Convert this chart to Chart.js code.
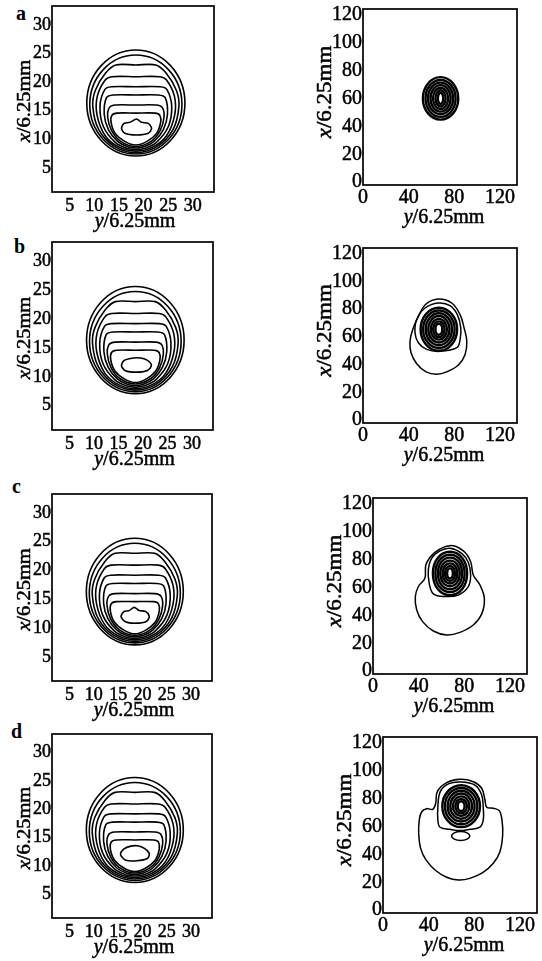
<!DOCTYPE html>
<html><head><meta charset="utf-8">
<script src="https://cdn.jsdelivr.net/npm/chart.js@4.4.1/dist/chart.umd.min.js"></script>
<style>
html,body{margin:0;padding:0;background:#fff;width:542px;height:961px;overflow:hidden;position:relative}
canvas{position:absolute}
.lbl{position:absolute;font:bold 20px 'Liberation Serif',serif;line-height:1;color:#000}
</style></head><body>
<div class="lbl" style="left:16px;top:3px">a</div>
<div class="lbl" style="left:14px;top:236px">b</div>
<div class="lbl" style="left:12px;top:476px">c</div>
<div class="lbl" style="left:11px;top:721px">d</div>
<script>
// ---------- tick labels and axis ranges ----------
const leftTicksX = [5, 10, 15, 20, 25, 30];
const leftTicksY = [5, 10, 15, 20, 25, 30];
const rightTicksX = [0, 40, 80, 120];
const rightTicksY = [0, 20, 40, 60, 80, 100, 120];
const leftRangeX = [1.4, 34.3];
const leftRangeY = [0.8, 33.3];
const rightRangeX = [0, 135];
const rightRangeY = [-2, 124];
const xTitle = ['y', '/6.25mm'];
const yTitle = ['x', '/6.25mm'];

// ---------- left column contours (x = y/6.25mm, y = x/6.25mm) ----------
const leftRing1 = [[28.4,16.34],[18.43,25.61],[8.46,16.34],[18.43,7.08]];
const leftRing2 = [[27.79,16.08],[18.43,24.73],[9.07,16.08],[18.43,7.43]];
const leftBowl3 = [[14.36,22.99],[18.43,22.99],[22.5,22.99],[24.61,21.53],[26.65,18.58],[27.18,15.8],[26.0,11.74],[22.8,8.77],[18.43,7.69],[14.05,8.77],[10.86,11.74],[9.68,15.8],[10.21,18.58],[12.24,21.53]];
const leftBowl4 = [[13.55,20.94],[18.43,20.94],[23.31,20.94],[24.66,20.36],[26.28,17.46],[26.3,14.2],[24.66,10.64],[21.87,8.65],[18.43,7.95],[14.99,8.65],[12.2,10.64],[10.56,14.2],[10.58,17.46],[12.2,20.36]];
const leftBowl5 = [[13.49,19.19],[18.43,19.19],[23.37,19.19],[24.74,18.7],[25.71,15.82],[25.03,12.25],[22.61,9.47],[20.32,8.46],[18.43,8.21],[16.54,8.46],[14.25,9.47],[11.83,12.25],[11.15,15.82],[12.12,18.7]];
const leftBowl6 = [[13.89,17.74],[18.43,17.74],[22.97,17.74],[24.39,17.29],[24.85,14.33],[23.99,11.67],[22.12,9.63],[20.09,8.69],[18.43,8.48],[16.77,8.69],[14.74,9.63],[12.87,11.67],[12.01,14.33],[12.47,17.29]];
const leftBowl7 = [[14.3,15.99],[18.43,15.99],[22.55,15.99],[23.8,15.55],[24.15,13.9],[23.4,11.6],[21.6,9.7],[18.43,8.74],[15.26,9.7],[13.46,11.6],[12.71,13.9],[13.06,15.55]];
const leftBowl8 = [[14.6,14.59],[18.43,14.59],[22.3,14.59],[23.3,14.2],[23.45,12.9],[22.6,11.0],[20.6,9.6],[18.43,9.0],[16.26,9.6],[14.26,11.0],[13.41,12.9],[13.56,14.2]];
const leftBlobA = [[15.52,11.92],[16.05,12.79],[17.21,12.97],[18.57,13.55],[19.59,12.97],[20.93,12.79],[21.62,11.92],[20.93,11.05],[18.57,10.75],[16.19,11.05]];
const leftBlobB = [[15.6,11.9],[16.1,12.8],[17.4,13.15],[18.8,13.3],[20.2,13.1],[21.3,12.6],[21.7,11.9],[20.9,11.1],[18.8,10.8],[16.4,11.05]];
const leftBlobC = [[15.6,12.0],[16.2,12.85],[17.3,13.05],[18.3,13.6],[19.3,13.05],[20.6,12.9],[21.4,12.0],[20.8,11.15],[18.6,10.85],[16.5,11.1]];
const leftBlobD = [[15.5,12.0],[16.2,13.0],[17.6,13.5],[19.0,13.55],[20.4,13.1],[21.4,12.2],[21.0,11.3],[18.8,10.9],[16.6,11.0]];

// ---------- right column contours ----------
const raCore = [
  [[83.5,60],[68,75.2],[52.5,60],[68,44.8]],
  [[81.2,60],[68,73.2],[54.8,60],[68,46.8]],
  [[79,60],[68,71.3],[57,60],[68,48.7]],
  [[76.8,60],[68,69.5],[59.2,60],[68,50.5]],
  [[74.6,60],[68,67.6],[61.4,60],[68,52.4]],
  [[72.4,60],[68,65.8],[63.6,60],[68,54.2]],
  [[70.4,60],[68,64],[65.6,60],[68,56]]
];
const rbOuter = [[66.1,87.3],[77.8,84.4],[85.1,76],[88.6,66.5],[91,56.9],[89.5,47.4],[83.6,39.8],[73.4,34.8],[64.6,33.1],[55.3,34.8],[47.1,40.7],[42.1,48.6],[41.2,56.9],[43.6,65.3],[48.5,74.8],[55.3,83.7]];
const rbInner = [[66.1,84.4],[76.3,82.5],[82.7,76],[85.7,66.5],[85.1,58.1],[82.2,52.2],[67.5,49.6],[55.8,51],[48.5,55.8],[45.6,63],[47.1,72.5],[54.4,80.8]];
const rbCore = [
  [[82.5,65.5],[66.5,81],[50.5,65.5],[66.5,50]],
  [[80.3,65.5],[66.5,79],[52.7,65.5],[66.5,52]],
  [[78,65.5],[66.5,77],[55,65.5],[66.5,54]],
  [[75.8,65.5],[66.5,75],[57.2,65.5],[66.5,56]],
  [[73.6,65.5],[66.5,73],[59.4,65.5],[66.5,58]],
  [[71.5,65.5],[66.5,71.2],[61.5,65.5],[66.5,59.8]],
  [[69.5,65.5],[66.5,69.5],[63.5,65.5],[66.5,61.5]]
];
const rcOuter = [[67.5,89.9],[79.2,86.1],[85.6,78.4],[87.9,68.9],[93.8,61.7],[97.6,52.2],[95.5,41.4],[87.9,33.1],[76.2,27.8],[64.6,25.9],[52.9,28.8],[43.5,35.5],[38.3,43.8],[37.1,53.4],[40.0,61],[45.5,66.5],[46.5,76.5],[54.3,85.1]];
const rcInner = [[67.5,88],[77.7,84.4],[83.5,78],[85.6,68.9],[83.5,60.5],[74.8,54.5],[63.1,53.5],[52.9,55.4],[49.3,62.9],[48.5,72.5],[51.4,80.8],[58.7,86.1]];
const rcCore = [
  [[82.5,70],[67.5,85.5],[52.5,70],[67.5,54.5]],
  [[80.3,70],[67.5,83.4],[54.7,70],[67.5,56.6]],
  [[78.1,70],[67.5,81.3],[56.9,70],[67.5,58.7]],
  [[76,70],[67.5,79.2],[59,70],[67.5,60.8]],
  [[73.9,70],[67.5,77.2],[61.1,70],[67.5,62.8]],
  [[71.9,70],[67.5,75.3],[63.1,70],[67.5,64.7]],
  [[70,70],[67.5,73.6],[65,70],[67.5,66.4]]
];
const rdOuter = [[67.5,93.7],[79.2,92],[86.5,87.3],[89.4,78.9],[90.9,73.7],[96.7,73],[101.9,71.3],[104.3,64.6],[104.9,53.8],[102.5,41.9],[96.7,33.6],[87.4,26.9],[76.2,22.8],[66,21.6],[55.8,23.6],[45.6,28.8],[37.7,36],[33,44.3],[31.3,55.1],[31.8,64.6],[33.9,70.5],[38.3,72.7],[43.6,72.2],[46.2,76.5],[47.6,84.9],[55.8,91.3]];
const rdInner = [[67.5,91.8],[80.6,89.6],[86.5,82.5],[87.9,73],[87.9,64.6],[85,59.4],[76.2,57.9],[67.5,57],[58.7,57.9],[50,59.4],[48.1,64.6],[48.1,74.1],[50.2,84.9],[57.3,90.4]];
const rdSmall = [[76.1,53.1],[68.1,56.3],[60.1,53.1],[68.1,49.9]];
const rdCore = [
  [[85,74.5],[68.5,89.5],[52,74.5],[68.5,59.5]],
  [[82.7,74.5],[68.5,87.5],[54.3,74.5],[68.5,61.5]],
  [[80.3,74.5],[68.5,85.5],[56.7,74.5],[68.5,63.5]],
  [[78,74.5],[68.5,83.5],[59,74.5],[68.5,65.5]],
  [[75.7,74.5],[68.5,81.5],[61.3,74.5],[68.5,67.5]],
  [[73.5,74.5],[68.5,79.7],[63.5,74.5],[68.5,69.3]],
  [[71.5,74.5],[68.5,78],[65.5,74.5],[68.5,71]]
];

// ---------- helpers ----------
const FONT = "'Liberation Serif', 'Times New Roman', serif";
Chart.defaults.font.family = FONT;
Chart.defaults.font.size = 20;
Chart.defaults.color = '#000';

function ds(pts, tension, bw) {
  return { data: pts.map(p => ({x: p[0], y: p[1]})), tension: tension, borderWidth: bw,
    borderColor: '#000', pointRadius: 0, pointHoverRadius: 0, spanGaps: true, fill: false };
}
const ELL = 0.55, FREE = 0.38;
const leftBowls = [leftBowl3, leftBowl4, leftBowl5, leftBowl6, leftBowl7, leftBowl8];
function leftSet(blob) {
  return [ds(leftRing1, ELL, 1.6), ds(leftRing2, ELL, 1.6)]
    .concat(leftBowls.map(b => ds(b, 0.32, 1.6)))
    .concat([ds(blob, 0.3, 1.6)]);
}
function coreSet(core, t) { return core.map(e => ds(e, t, 2.4)); }

// closes every contour into a smooth loop
const loopPlugin = {
  id: 'loop',
  afterDatasetUpdate(chart, args) {
    const el = args.meta && args.meta.dataset;
    if (el) { el._loop = true; el._fullLoop = true; }
  }
};
function drawTitle(ctx, parts, x, y, ang, st, size) {
  const f1 = 'italic ' + size + 'px ' + FONT, f2 = size + 'px ' + FONT;
  ctx.font = f1; const w1 = ctx.measureText(parts[0]).width;
  ctx.font = f2; const w2 = ctx.measureText(parts[1]).width;
  ctx.save();
  ctx.translate(x, y); ctx.rotate(ang); ctx.scale(st, 1);
  ctx.textBaseline = 'alphabetic'; ctx.textAlign = 'left';
  ctx.fillStyle = '#000'; ctx.strokeStyle = '#000'; ctx.lineWidth = 0.5;
  const x0 = -(w1 + w2) / 2;
  ctx.font = f1; ctx.fillText(parts[0], x0, 0); ctx.strokeText(parts[0], x0, 0);
  ctx.font = f2; ctx.fillText(parts[1], x0 + w1, 0); ctx.strokeText(parts[1], x0 + w1, 0);
  ctx.restore();
}
const decor = {
  id: 'decor',
  afterDraw(chart, args, o) {
    const ctx = chart.ctx, a = chart.chartArea;
    ctx.save();
    ctx.lineWidth = 1.7; ctx.strokeStyle = '#000';
    ctx.strokeRect(a.left, a.top, a.right - a.left, a.bottom - a.top);
    drawTitle(ctx, xTitle, (a.left + a.right) / 2 + o.xShift, a.bottom + o.xOff, 0, 1, 20);
    drawTitle(ctx, yTitle, a.left - o.yOff, (a.top + a.bottom) / 2 + o.yShift, -Math.PI / 2, o.stretch, o.ySize);
    ctx.restore();
  }
};

// ---------- panels (layout only) ----------
const panels = [
  {kind: 'L', x: 52, y: 6,   w: 162, h: 186, sets: leftSet(leftBlobA)},
  {kind: 'L', x: 52, y: 242, w: 161, h: 188, sets: leftSet(leftBlobB)},
  {kind: 'L', x: 52, y: 494, w: 160, h: 187, sets: leftSet(leftBlobC)},
  {kind: 'L', x: 52, y: 734, w: 160, h: 184, sets: leftSet(leftBlobD)},
  {kind: 'R', x: 363, y: 9,   w: 154, h: 176, sets: coreSet(raCore, ELL)},
  {kind: 'R', x: 363, y: 248, w: 154, h: 175, sets: [ds(rbOuter, FREE, 1.5), ds(rbInner, FREE, 1.5)].concat(coreSet(rbCore, ELL))},
  {kind: 'R', x: 373, y: 498, w: 154, h: 176, sets: [ds(rcOuter, FREE, 1.5), ds(rcInner, FREE, 1.5)].concat(coreSet(rcCore, 0.58))},
  {kind: 'R', x: 383, y: 737, w: 154, h: 176, sets: [ds(rdOuter, FREE, 1.5), ds(rdInner, FREE, 1.5), ds(rdSmall, ELL, 1.5)].concat(coreSet(rdCore, ELL))}
];

panels.forEach(p => {
  const L = p.kind === 'L';
  const AW = L ? 52 : 62, AH = 48, PT = 14, PR = 4;
  const W = AW + p.w + PR, H = PT + p.h + AH;
  const cv = document.createElement('canvas');
  cv.width = W; cv.height = H;
  cv.style.left = (p.x - AW) + 'px'; cv.style.top = (p.y - PT) + 'px';
  cv.style.width = W + 'px'; cv.style.height = H + 'px';
  document.body.appendChild(cv);
  const tx = L ? leftTicksX : rightTicksX, ty = L ? leftTicksY : rightTicksY;
  const rx = L ? leftRangeX : rightRangeX, ry = L ? leftRangeY : rightRangeY;
  const tickFont = {family: FONT, size: L ? 18 : 20};
  const tickCommon = {autoSkip: false, color: '#000', font: tickFont, textStrokeColor: '#000', textStrokeWidth: 0.5};
  new Chart(cv, {
    type: 'line',
    data: {datasets: p.sets},
    options: {
      responsive: false, animation: false, devicePixelRatio: 1, events: [],
      layout: {padding: {top: PT, right: PR, left: 0, bottom: 0}},
      plugins: {
        legend: {display: false}, tooltip: {enabled: false},
        decor: L ? {xOff: 35, xShift: 2, yOff: 22, yShift: 2, stretch: 1.08, ySize: 19}
                 : {xOff: 38, xShift: 4, yOff: 32, yShift: -5, stretch: 1.15, ySize: 20}
      },
      scales: {
        x: {
          type: 'linear', min: rx[0], max: rx[1],
          grid: {display: false, drawTicks: false}, border: {display: false},
          afterBuildTicks: s => { s.ticks = tx.map(v => ({value: v})); },
          afterFit: s => { s.height = AH; s.paddingLeft = 0; s.paddingRight = 0; },
          ticks: Object.assign({maxRotation: 0, minRotation: 0, padding: L ? 3 : 1}, tickCommon)
        },
        y: {
          type: 'linear', min: ry[0], max: ry[1],
          grid: {display: false, drawTicks: false}, border: {display: false},
          afterBuildTicks: s => { s.ticks = ty.map(v => ({value: v})); },
          afterFit: s => { s.width = AW; s.paddingTop = 0; s.paddingBottom = 0; },
          ticks: Object.assign({padding: 1}, tickCommon)
        }
      }
    },
    plugins: [loopPlugin, decor]
  });
});
</script>
</body></html>
